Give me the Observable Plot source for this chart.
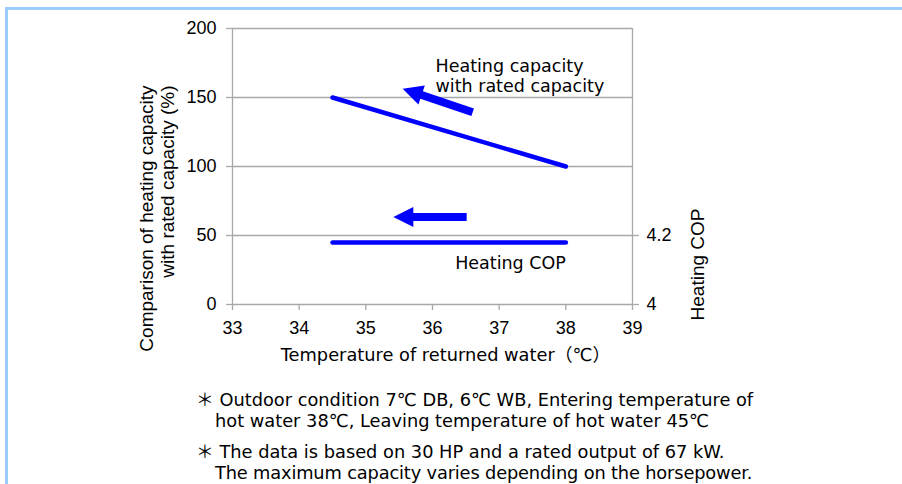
<!DOCTYPE html>
<html>
<head>
<meta charset="utf-8">
<script src="https://cdn.jsdelivr.net/npm/d3@7"></script>
<script src="https://cdn.jsdelivr.net/npm/@observablehq/plot@0.6"></script>
<style>
  html, body { margin: 0; padding: 0; background: #fff; }
  #page { position: relative; width: 902px; height: 484px; overflow: hidden; }
  #frame { position: absolute; left: 5px; top: 7px; width: 1000px; height: 600px;
           border-top: 3px solid #99ccff; border-left: 3px solid #99ccff; }
  #chart { position: absolute; left: 0; top: 0; }
  .note { position: absolute; font-family: "DejaVu Sans", "Noto Sans CJK JP", sans-serif;
          font-size: 17.8px; line-height: 21px; color: #000; white-space: nowrap; }
</style>
</head>
<body>
<div id="page">
  <div id="frame"></div>
  <div id="chart"></div>
  <div class="note" style="left:196px; top:389px;">＊ Outdoor condition 7℃ DB, 6℃ WB, Entering temperature of</div>
  <div class="note" style="left:215px; top:410px;">hot water 38℃, Leaving temperature of hot water 45℃</div>
  <div class="note" style="left:196px; top:441px;">＊ The data is based on 30 HP and a rated output of 67 kW.</div>
  <div class="note" style="left:215px; top:462px; letter-spacing:-0.15px;">The maximum capacity varies depending on the horsepower.</div>
</div>
<script>
// ---- data ----
const xTicks = [33, 34, 35, 36, 37, 38, 39];
const yTicks = [0, 50, 100, 150, 200];
const copTicks = [4, 4.2];

const capTemp = [34.5, 38];
const capValue = [150, 100];

const copTemp = [34.5, 38];
const copValue = [4.18, 4.18];

// annotation arrows (data units: temperature, % scale)
const arrowTailX = [36.61, 36.52];
const arrowTailY = [139, 63];
const arrowTipX = [35.56, 35.42];
const arrowTipY = [156, 63];

// annotation labels
const capLabel = "Heating capacity\nwith rated capacity";
const copLabel = "Heating COP";
const capLabelPos = [36.045, 166];
const copLabelPos = [37.17, 29.5];

// COP (right axis) mapped onto the left % scale: 4 -> 0, 4.2 -> 50
const copToLeft = c => (c - 4) * 250;

const capData = capTemp.map((t, i) => ({t, v: capValue[i]}));
const copData = copTemp.map((t, i) => ({t, v: copToLeft(copValue[i])}));
const arrows = arrowTailX.map((_, i) => ({x1: arrowTailX[i], y1: arrowTailY[i], x2: arrowTipX[i], y2: arrowTipY[i]}));

const gridColor = "#a8a8a8";
const blue = "#0000ff";
const jpFont = "'DejaVu Sans', 'Noto Sans CJK JP', sans-serif";

function arrowMark(index, scales) {
  const g = d3.create("svg:g");
  const headLen = 20, headHalf = 10, shaftHalf = 4;
  for (const a of arrows) {
    const tx = scales.x(a.x1), ty = scales.y(a.y1);
    const hx = scales.x(a.x2), hy = scales.y(a.y2);
    const len = Math.hypot(hx - tx, hy - ty);
    const ux = (hx - tx) / len, uy = (hy - ty) / len;
    const nx = -uy, ny = ux;
    const bx = hx - ux * headLen, by = hy - uy * headLen;
    const pts = [
      [tx + nx * shaftHalf, ty + ny * shaftHalf],
      [bx + nx * shaftHalf, by + ny * shaftHalf],
      [bx + nx * headHalf, by + ny * headHalf],
      [hx, hy],
      [bx - nx * headHalf, by - ny * headHalf],
      [bx - nx * shaftHalf, by - ny * shaftHalf],
      [tx - nx * shaftHalf, ty - ny * shaftHalf]
    ];
    g.append("polygon").attr("points", pts.map(p => p.join(",")).join(" ")).attr("fill", blue);
  }
  return g.node();
}

const chart = Plot.plot({
  width: 902,
  height: 380,
  marginLeft: 232,
  marginRight: 270,
  marginTop: 28,
  marginBottom: 76,
  x: {domain: [33, 39]},
  y: {domain: [0, 200]},
  style: {fontFamily: "'Liberation Sans', Arial, sans-serif", fontSize: "18px", color: "#000", background: "transparent", overflow: "visible"},
  marks: [
    Plot.ruleY(yTicks, {stroke: gridColor, strokeWidth: 1.3}),
    Plot.ruleX([33, 39], {stroke: gridColor, strokeWidth: 1.3}),
    Plot.axisY({ticks: yTicks, tickSize: 6, tickPadding: 10, tickFormat: d => String(d), label: null, stroke: gridColor, fill: "#000", strokeWidth: 1.3}),
    Plot.axisX({ticks: xTicks, tickSize: 6, tickPadding: 11, tickFormat: d => String(d), label: null, stroke: gridColor, fill: "#000", strokeWidth: 1.3}),
    Plot.axisY({anchor: "right", ticks: copTicks.map(copToLeft), tickFormat: v => String(+(4 + v / 250).toFixed(1)),
                tickSize: 6, tickPadding: 8, label: null, stroke: gridColor, fill: "#000", strokeWidth: 1.3}),
    Plot.line(capData, {x: "t", y: "v", stroke: blue, strokeWidth: 4.5}),
    Plot.line(copData, {x: "t", y: "v", stroke: blue, strokeWidth: 4.5}),
    arrowMark,
    Plot.text([capLabel], {x: () => capLabelPos[0], y: () => capLabelPos[1], text: d => d, textAnchor: "start", lineHeight: 1.15,
                       fontFamily: jpFont, fontSize: 17.5, fill: "#000"}),
    Plot.text([copLabel], {x: () => copLabelPos[0], y: () => copLabelPos[1], text: d => d, textAnchor: "middle",
                       fontFamily: jpFont, fontSize: 17.5, fill: "#000"}),
    Plot.text(["Comparison of heating capacity\nwith rated capacity (%)"], {frameAnchor: "top-left", text: d => d,
                       rotate: -90, textAnchor: "end", lineAnchor: "middle", lineHeight: 1.1, dx: -76, dy: 57, fontSize: 19, fill: "#000"}),
    Plot.text(["Heating COP"], {frameAnchor: "right", text: d => d, rotate: -90, textAnchor: "middle",
                       dx: 65, dy: 98, fontSize: 19, fill: "#000"}),
    Plot.text(["Temperature of returned water（℃）"], {frameAnchor: "bottom", text: d => d,
                       dx: 13, dy: 56, fontFamily: jpFont, fontSize: 17.8, fill: "#000"})
  ]
});
document.getElementById("chart").appendChild(chart);
</script>
</body>
</html>
